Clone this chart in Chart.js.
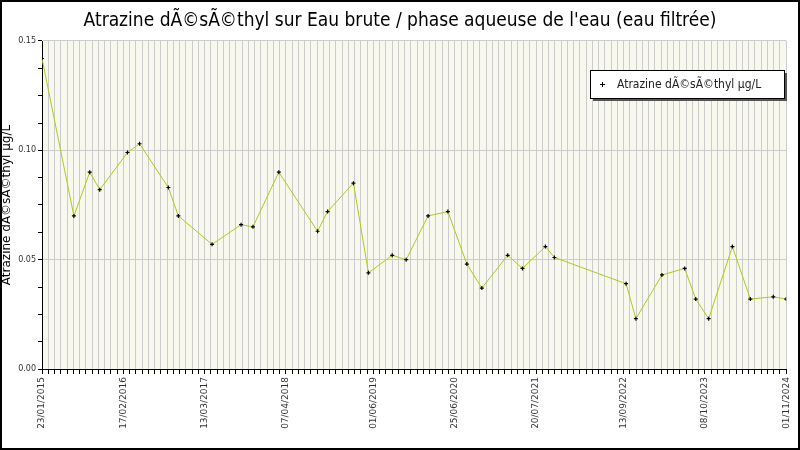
<!DOCTYPE html>
<html><head><meta charset="utf-8">
<script src="https://cdn.jsdelivr.net/npm/chart.js@4/dist/chart.umd.min.js"></script>
<style>html,body{margin:0;padding:0;background:#fff}#w{width:800px;height:450px;position:relative}</style>
</head><body><div id="w"><canvas id="c"></canvas></div>
<script>
const titleText = "Atrazine dÃ©sÃ©thyl sur Eau brute / phase aqueuse de l'eau (eau filtrée)";
const seriesName = "Atrazine dÃ©sÃ©thyl µg/L";
// days since 23/01/2015
const sampleDays = [0,153,229,277,410,468,606,654,816,955,1012,1136,1322,1370,1494,1566,1680,1747,1852,1947,2038,2110,2234,2305,2415,2458,2802,2849,2974,3083,3136,3198,3312,3398,3508,3570];
const values = [0.142,0.070,0.090,0.082,0.099,0.103,0.083,0.070,0.057,0.066,0.065,0.090,0.063,0.072,0.085,0.044,0.052,0.050,0.070,0.072,0.048,0.037,0.052,0.046,0.056,0.051,0.039,0.023,0.043,0.046,0.032,0.023,0.056,0.032,0.033,0.032];
const tickDays = [0,390,780,1170,1590,1980,2370,2790,3180,3570];
const tickLabels = ["23/01/2015","17/02/2016","13/03/2017","07/04/2018","01/06/2019","25/06/2020","20/07/2021","13/09/2022","08/10/2023","01/11/2024"];

const deco = {
  id:'deco',
  beforeDraw(ch){
    const {ctx,chartArea:a}=ch;
    ctx.save();ctx.fillStyle='#fff';ctx.fillRect(0,0,800,450);
    ctx.fillStyle='#f8f8ef';ctx.fillRect(a.left,a.top,a.right-a.left,a.bottom-a.top);
    ctx.restore();
  },
  afterDraw(ch){
    const ctx=ch.ctx;ctx.save();
    ctx.strokeStyle='#000';ctx.lineWidth=2;ctx.strokeRect(1,1,798,448);
    ctx.fillStyle='#000';ctx.font='19px "DejaVu Sans Condensed", "DejaVu Sans"';ctx.textAlign='center';ctx.textBaseline='middle';
    ctx.fillText(titleText,400,21);
    // legend
    ctx.fillStyle='#555';ctx.fillRect(593,73,194,28);
    ctx.fillStyle='#fff';ctx.fillRect(590,70,194,28);
    ctx.strokeStyle='#000';ctx.lineWidth=1;ctx.strokeRect(590.5,70.5,194,28);
    ctx.strokeStyle='#000';ctx.beginPath();ctx.moveTo(600,84.5);ctx.lineTo(605,84.5);ctx.moveTo(602.5,82);ctx.lineTo(602.5,87);ctx.stroke();
    ctx.fillStyle='#222';ctx.font='12px "DejaVu Sans Condensed", "DejaVu Sans"';ctx.textAlign='left';
    ctx.fillText(seriesName,617,85);
    ctx.restore();
  }
};

new Chart(document.getElementById('c'),{
  type:'line',
  data:{datasets:[{label:seriesName,data:sampleDays.map((d,i)=>({x:d,y:values[i]})),
    borderColor:'#a8cc1c',borderWidth:1,pointStyle:'cross',pointRadius:2,pointBorderColor:'#000',pointBorderWidth:1.2,tension:0}]},
  options:{
    responsive:true,maintainAspectRatio:false,animation:false,
    layout:{padding:{top:41,right:6,left:0,bottom:0}},
    plugins:{legend:{display:false},title:{display:false},tooltip:{enabled:false}},
    scales:{
      x:{type:'linear',min:tickDays[0],max:tickDays[tickDays.length-1],
        afterBuildTicks(s){const t=[];for(let d=0;d<=3570;d+=30)t.push({value:d});tickDays.forEach(v=>{if(!t.some(k=>Math.abs(k.value-v)<16))t.push({value:v});});t.sort((a,b)=>a.value-b.value);s.ticks=t;},
        afterFit(s){s.height=81;},
        grid:{color:'#cccccc',drawTicks:true,tickLength:5,tickColor:'#000'},
        border:{color:'#000',width:1},
        ticks:{autoSkip:false,maxRotation:90,minRotation:90,color:'#333',font:{family:'DejaVu Sans',size:9},
          callback(v){let best=-1;tickDays.forEach((d,i)=>{if(Math.abs(d-v)<16)best=i;});return best>=0?tickLabels[best]:'';}}},
      y:{min:0,max:0.15,
        afterBuildTicks(s){const t=[];for(let i=0;i<=12;i++)t.push({value:i*0.0125});s.ticks=t;},
        afterFit(s){s.width=42;},
        title:{display:true,text:seriesName,color:'#000',font:{family:'DejaVu Sans',size:12},padding:0},
        border:{color:'#000',width:1},
        grid:{color(c){return (Math.round(c.tick.value*10000)%500===0)?'#cccccc':'rgba(0,0,0,0)';},tickColor:'#000',tickLength:4},
        ticks:{color:'#333',font:{family:'DejaVu Sans',size:8},padding:2,
          callback(v){return (Math.round(v*10000)%500===0)?v.toFixed(2):'';}}}
    }
  },
  plugins:[deco]
});
</script></body></html>
